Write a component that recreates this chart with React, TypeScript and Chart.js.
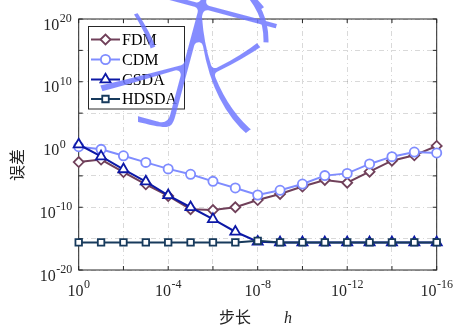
import React, { useEffect, useRef } from "react";
import { Chart, registerables } from "chart.js";
import { drawPoint } from "chart.js/helpers";

Chart.register(...registerables);

// ---- data ----
const hValues = [1e0, 1e-1, 1e-2, 1e-3, 1e-4, 1e-5, 1e-6, 1e-7, 1e-8, 1e-9, 1e-10, 1e-11, 1e-12, 1e-13, 1e-14, 1e-15, 1e-16];
const fdmErr = [1.6e-3, 4.0e-3, 4.0e-5, 4.5e-7, 6.3e-9, 5.0e-11, 3.5e-11, 1.0e-10, 1.4e-9, 1.3e-8, 2.0e-7, 2.2e-6, 8.0e-7, 4.7e-5, 2.6e-3, 1.9e-2, 0.58];
const cdmErr = [0.45, 0.17, 1.6e-2, 1.4e-3, 1.3e-4, 1.8e-5, 1.35e-6, 1.2e-7, 9.0e-9, 5.0e-8, 5.0e-7, 1.1e-5, 2.5e-5, 8.0e-4, 1.15e-2, 6.3e-2, 4.5e-2];
const csdaErr = [1.0, 1.25e-2, 1.1e-4, 1.25e-6, 8.0e-9, 1.0e-10, 1.25e-12, 1.25e-14, 3.2e-16, 2.5e-16, 2.5e-16, 2.5e-16, 2.5e-16, 2.5e-16, 2.5e-16, 2.5e-16, 2.5e-16];
const hdsdaErr = [2.5e-16, 2.5e-16, 2.5e-16, 2.5e-16, 2.5e-16, 2.5e-16, 2.5e-16, 2.5e-16, 4.5e-16, 2.5e-16, 2.5e-16, 2.5e-16, 2.5e-16, 2.5e-16, 2.5e-16, 2.5e-16, 2.5e-16];
const seriesNames = ["FDM", "CDM", "CSDA", "HDSDA"];

const xGridValues = [1e0, 1e-2, 1e-4, 1e-6, 1e-8, 1e-10, 1e-12, 1e-14, 1e-16];
const xLabelExps = [0, -4, -8, -12, -16];
const yGridValues = [1e20, 1e15, 1e10, 1e5, 1e0, 1e-5, 1e-10, 1e-15, 1e-20];
const yLabelExps = [20, 10, 0, -10, -20];
const xTitle = "步长";
const xSymbol = "h";
const yTitle = "误差";
const watermark = "求";

const SERIF = "'Liberation Serif', 'Times New Roman', serif";
const CJK = "'Noto Sans CJK SC', sans-serif";
const AXIS = "#262626";

const styles = [
  { color: "#70405A", pointStyle: "rectRot", radius: 5 },
  { color: "#7F8CFF", pointStyle: "circle", radius: 4.6 },
  { color: "#0C18A6", pointStyle: "triangle", radius: 5.8 },
  { color: "#173A5C", pointStyle: "rect", radius: 4.6 },
];

const seriesData = [fdmErr, cdmErr, csdaErr, hdsdaErr];

function drawPow(ctx: CanvasRenderingContext2D, exp: number, x: number, baseY: number, align: "center" | "right") {
  const base = "10";
  const e = String(exp);
  ctx.font = `16px ${SERIF}`;
  const wb = ctx.measureText(base).width;
  ctx.font = `12px ${SERIF}`;
  const we = ctx.measureText(e).width;
  const gap = 0.5;
  const total = wb + gap + we;
  const start = align === "center" ? x - total / 2 : x - (wb + gap + Math.max(we, 12.5));
  ctx.textAlign = "left";
  ctx.textBaseline = "alphabetic";
  ctx.fillStyle = AXIS;
  ctx.font = `16px ${SERIF}`;
  ctx.fillText(base, start, baseY);
  ctx.font = `12px ${SERIF}`;
  ctx.fillText(e, start + wb + gap, baseY - 7.5);
}

const decorPlugin = {
  id: "decor",
  beforeDatasetsDraw(chart: any) {
    const ctx: CanvasRenderingContext2D = chart.ctx;
    const { left, right, top, bottom } = chart.chartArea;
    const xs = chart.scales.x;
    const ys = chart.scales.y;
    ctx.save();
    ctx.strokeStyle = AXIS;
    ctx.lineWidth = 1;
    ctx.beginPath();
    for (const v of xGridValues) {
      const px = xs.getPixelForValue(v);
      ctx.moveTo(px, bottom);
      ctx.lineTo(px, bottom - 4);
      ctx.moveTo(px, top);
      ctx.lineTo(px, top + 4);
    }
    for (const v of yGridValues) {
      const py = ys.getPixelForValue(v);
      ctx.moveTo(left, py);
      ctx.lineTo(left + 4, py);
      ctx.moveTo(right, py);
      ctx.lineTo(right - 4, py);
    }
    ctx.stroke();
    ctx.strokeRect(left, top, right - left, bottom - top);
    ctx.restore();
  },
  afterDraw(chart: any) {
    const ctx: CanvasRenderingContext2D = chart.ctx;
    const { left, bottom } = chart.chartArea;
    const xs = chart.scales.x;
    const ys = chart.scales.y;
    ctx.save();
    // tick labels
    for (const e of xLabelExps) {
      const px = xs.getPixelForValue(Math.pow(10, e));
      drawPow(ctx, e, px, bottom + 25.5, "center");
    }
    for (const e of yLabelExps) {
      const py = ys.getPixelForValue(Math.pow(10, e));
      drawPow(ctx, e, left - 6.5, py + 10.5, "right");
    }
    // axis titles
    ctx.fillStyle = AXIS;
    ctx.font = `16px ${CJK}`;
    ctx.textAlign = "center";
    ctx.textBaseline = "middle";
    ctx.fillText(xTitle, 235, 317);
    ctx.font = `italic 16px ${SERIF}`;
    ctx.textBaseline = "alphabetic";
    ctx.fillText(xSymbol, 288, 323);
    ctx.save();
    ctx.translate(17, 165);
    ctx.rotate(-Math.PI / 2);
    ctx.font = `16px ${CJK}`;
    ctx.textBaseline = "middle";
    ctx.fillText(yTitle, 0, 0);
    ctx.restore();

    // legend
    const bx = 88.5, by = 26.5, bw = 96, bh = 82.5;
    ctx.fillStyle = "#ffffff";
    ctx.fillRect(bx, by, bw, bh);
    ctx.strokeStyle = AXIS;
    ctx.lineWidth = 1;
    ctx.strokeRect(bx, by, bw, bh);
    const rows = [39.5, 59.5, 79.5, 99];
    seriesNames.forEach((name, i) => {
      const st = styles[i];
      const y = rows[i];
      ctx.strokeStyle = st.color;
      ctx.lineWidth = 2;
      ctx.beginPath();
      ctx.moveTo(91, y);
      ctx.lineTo(120, y);
      ctx.stroke();
      ctx.fillStyle = "#ffffff";
      ctx.lineWidth = 1.8;
      drawPoint(ctx, { pointStyle: st.pointStyle as any, radius: st.radius, rotation: 0, borderWidth: 1.8 } as any, 105.5, y);
      ctx.fillStyle = "#000000";
      ctx.font = `16px ${SERIF}`;
      ctx.textAlign = "left";
      ctx.textBaseline = "middle";
      ctx.fillText(name, 122, y + 1);
    });

    // watermark (thin strokes: fill then erode)
    const off = document.createElement("canvas");
    off.width = chart.width;
    off.height = chart.height;
    const o = off.getContext("2d")!;
    o.translate(190, 52);
    o.rotate((15 * Math.PI) / 180);
    o.fillStyle = "rgba(112,120,255,1)";
    o.font = `185px ${CJK}`;
    o.textAlign = "center";
    o.textBaseline = "middle";
    o.fillText(watermark, 0, 0);
    o.globalCompositeOperation = "destination-out";
    o.lineWidth = 9;
    o.strokeStyle = "#000";
    o.lineJoin = "round";
    o.strokeText(watermark, 0, 0);
    o.setTransform(1, 0, 0, 1, 0, 0);
    o.globalCompositeOperation = "source-over";
    o.strokeStyle = "rgba(112,120,255,1)";
    o.lineWidth = 5;
    o.beginPath();
    o.arc(198, 40, 68, (-50 * Math.PI) / 180, (2 * Math.PI) / 180);
    o.stroke();
    ctx.globalAlpha = 0.85;
    ctx.drawImage(off, 0, 0);
    ctx.globalAlpha = 1;

    ctx.restore();
  },
};

export default function App() {
  const ref = useRef<HTMLCanvasElement | null>(null);
  useEffect(() => {
    document.body.style.margin = "0";
    const canvas = ref.current!;
    const datasets = seriesNames.map((name, i) => ({
      label: name,
      data: hValues.map((h, j) => ({ x: h, y: seriesData[i][j] })),
      borderColor: styles[i].color,
      backgroundColor: "#ffffff",
      pointBackgroundColor: "#ffffff",
      pointBorderColor: styles[i].color,
      pointStyle: styles[i].pointStyle as any,
      pointRadius: styles[i].radius,
      pointBorderWidth: 1.8,
      borderWidth: 2,
      tension: 0,
      clip: false as any,
      order: 4 - i,
    }));
    const chart = new Chart(canvas, {
      type: "line",
      data: { datasets },
      plugins: [decorPlugin as any],
      options: {
        responsive: false,
        animation: false,
        devicePixelRatio: 1,
        layout: { padding: { left: 0, right: 19.3, top: 19, bottom: 0 } },
        plugins: { legend: { display: false }, tooltip: { enabled: false } },
        scales: {
          x: {
            type: "logarithmic",
            reverse: true,
            min: 1e-16,
            max: 1,
            ticks: { display: false },
            grid: { drawTicks: false, color: "rgba(0,0,0,0.15)", lineWidth: 1 },
            border: { display: false, dash: [5, 3, 1, 3] },
            afterBuildTicks: (s: any) => {
              s.ticks = xGridValues.map((v) => ({ value: v }));
            },
            afterFit: (s: any) => {
              s.height = 59;
            },
          },
          y: {
            type: "logarithmic",
            min: 1e-20,
            max: 1e20,
            ticks: { display: false },
            grid: { drawTicks: false, color: "rgba(0,0,0,0.15)", lineWidth: 1 },
            border: { display: false, dash: [5, 3, 1, 3] },
            afterBuildTicks: (s: any) => {
              s.ticks = yGridValues.map((v) => ({ value: v }));
            },
            afterFit: (s: any) => {
              s.width = 78.7;
            },
          },
        },
      } as any,
    });
    return () => chart.destroy();
  }, []);
  return (
    <div style={{ position: "absolute", left: 0, top: 0, width: 456, height: 329, background: "#fff" }}>
      <canvas ref={ref} width={456} height={329} />
    </div>
  );
}
